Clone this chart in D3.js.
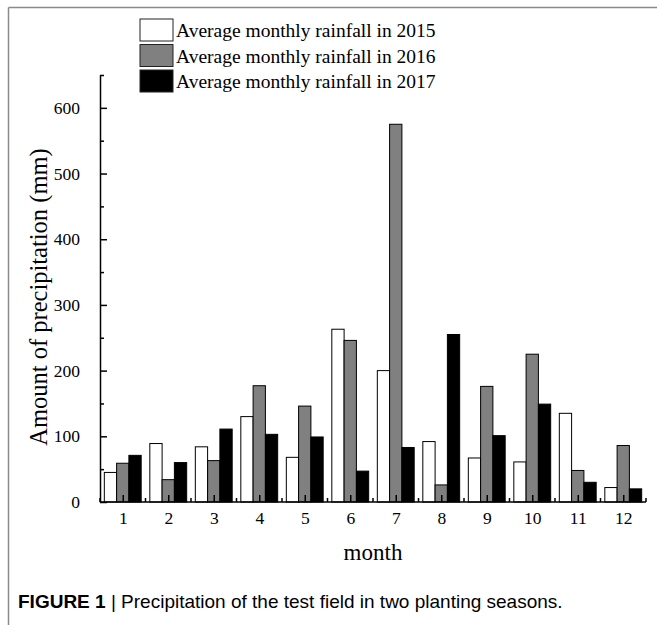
<!DOCTYPE html>
<html><head><meta charset="utf-8">
<script src="https://cdn.jsdelivr.net/npm/d3@7"></script>
<style>
html,body{margin:0;padding:0;background:#fff;}
svg{display:block;}
</style>
</head><body>
<svg id="chart" width="657" height="625"></svg>
<script>
const months = ["1","2","3","4","5","6","7","8","9","10","11","12"];
const seriesNames = ["Average monthly rainfall in 2015","Average monthly rainfall in 2016","Average monthly rainfall in 2017"];
const rain2015 = [45, 89, 84, 130, 68, 263, 200, 92, 67, 61, 135, 22];
const rain2016 = [59, 34, 63, 177, 146, 246, 575, 26, 176, 225, 48, 86];
const rain2017 = [71, 60, 111, 103, 99, 47, 83, 255, 101, 149, 30, 20];
const yTicks = [0, 100, 200, 300, 400, 500, 600];
const yMinorTicks = [50, 150, 250, 350, 450, 550, 650];
const fills = ["#ffffff", "#808080", "#000000"];

(function(){
const seriesValues = [rain2015, rain2016, rain2017];
const svg = d3.select("#chart");
const serif = "'Liberation Serif','Times New Roman',serif";

// frame lines
svg.append("line").attr("x1",8.5).attr("x2",657).attr("y1",7.5).attr("y2",7.5).attr("stroke","#8a8a8a").attr("stroke-width",1.5);
svg.append("line").attr("x1",8.5).attr("x2",8.5).attr("y1",7.5).attr("y2",625).attr("stroke","#8a8a8a").attr("stroke-width",1.5);

const mLeft = 100, mRight = 646, mTop = 75, mBottom = 502;
const y = d3.scaleLinear().domain([0, 650]).range([mBottom, mTop]);
const x0 = d3.scaleBand().domain(months).range([mLeft, mRight]).paddingInner(0.19).paddingOuter(0.095);
const x1 = d3.scaleBand().domain(d3.range(3)).range([0, x0.bandwidth()]);
const xStep = d3.scaleBand().domain(months).range([mLeft, mRight]);

// bars
const g = svg.append("g");
months.forEach((m, i) => {
  seriesValues.forEach((vals, s) => {
    g.append("rect")
      .attr("x", x0(m) + x1(s))
      .attr("y", y(vals[i]))
      .attr("width", x1.bandwidth())
      .attr("height", y(0) - y(vals[i]))
      .attr("fill", fills[s])
      .attr("stroke", "#000")
      .attr("stroke-width", 1);
  });
});

// y axis
const yAxis = svg.append("g").attr("transform", `translate(${mLeft},0)`)
  .call(d3.axisLeft(y).tickValues(yTicks).tickSize(-7).tickSizeOuter(0).tickPadding(20).tickFormat(d3.format("d")));
yAxis.select(".domain").attr("stroke-width", 1.5);
yAxis.selectAll(".tick line").attr("stroke-width", 1.5);
yAxis.selectAll("text").attr("font-family", serif).attr("font-size", 17.5).attr("fill", "#000");
const yMinor = svg.append("g").attr("transform", `translate(${mLeft},0)`)
  .call(d3.axisLeft(y).tickValues(yMinorTicks).tickSize(-4).tickSizeOuter(0).tickFormat(""));
yMinor.select(".domain").remove();
yMinor.selectAll(".tick line").attr("stroke-width", 1.5);

// x axis
const xCenter = m => x0(m) + x0.bandwidth() / 2;
const xAxis = svg.append("g").attr("transform", `translate(0,${mBottom})`)
  .call(d3.axisBottom(d3.scalePoint().domain(months).range([xCenter(months[0]), xCenter(months[11])]))
    .tickSize(-7).tickSizeOuter(0).tickPadding(10));
xAxis.select(".domain").remove();
xAxis.selectAll(".tick line").attr("stroke-width", 1.5);
xAxis.selectAll("text").attr("font-family", serif).attr("font-size", 17.5).attr("fill", "#000");
svg.append("line").attr("x1", mLeft).attr("x2", mRight).attr("y1", mBottom).attr("y2", mBottom).attr("stroke", "#000").attr("stroke-width", 1.5);
const bounds = months.map(m => xStep(m)).concat([mRight]);
svg.append("g").selectAll("line").data(bounds).join("line")
  .attr("x1", d => d).attr("x2", d => d).attr("y1", mBottom).attr("y2", mBottom - 4)
  .attr("stroke", "#000").attr("stroke-width", 1.5);

// axis titles
svg.append("text").attr("x", 373).attr("y", 560).attr("text-anchor", "middle")
  .attr("font-family", serif).attr("font-size", 23).text("month");
svg.append("text").attr("transform", "translate(47,297) rotate(-90)").attr("text-anchor", "middle")
  .attr("font-family", serif).attr("font-size", 24.5).text("Amount of precipitation (mm)");

// legend
const lg = svg.append("g");
seriesNames.forEach((name, i) => {
  const ly = 19 + i * 25.5;
  lg.append("rect").attr("x", 140).attr("y", ly).attr("width", 33).attr("height", 22)
    .attr("fill", fills[i]).attr("stroke", "#222").attr("stroke-width", 1);
  lg.append("text").attr("x", 176).attr("y", ly + 18).attr("font-family", serif).attr("font-size", 19.5).text(name);
});

// caption
const cap = svg.append("text").attr("x", 18).attr("y", 608).attr("font-family", "'Liberation Sans',Arial,sans-serif").attr("font-size", 19);
cap.append("tspan").attr("font-weight", "bold").text("FIGURE 1");
cap.append("tspan").text(" | Precipitation of the test field in two planting seasons.");
})();
</script>
</body></html>
